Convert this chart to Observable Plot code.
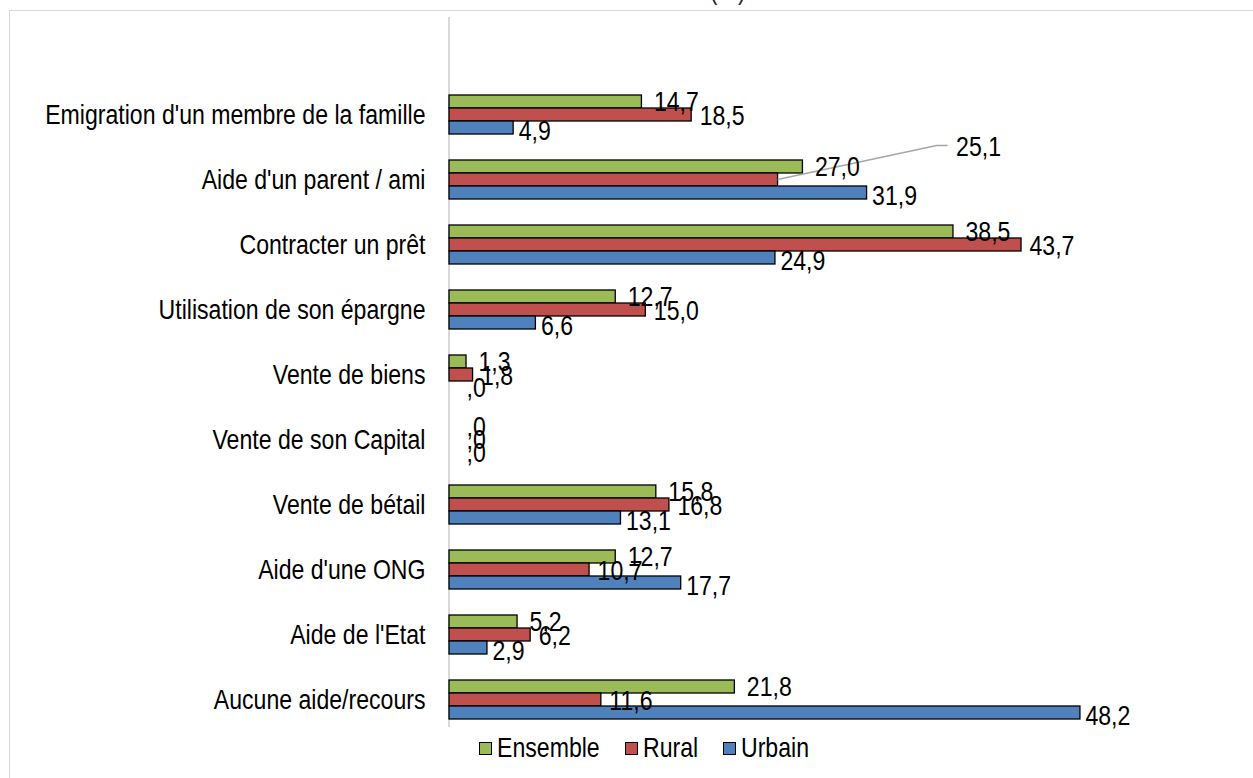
<!DOCTYPE html>
<html><head><meta charset="utf-8">
<script src="https://cdn.jsdelivr.net/npm/d3@7"></script>
<script src="https://cdn.jsdelivr.net/npm/@observablehq/plot@0.6"></script>
<style>
html,body{margin:0;padding:0;background:#fff;}
#wrap{position:relative;width:1253px;height:778px;overflow:hidden;background:#fff;}
#border{position:absolute;left:9px;top:10px;width:1300px;height:820px;border:1.5px solid #d9d9d9;}
#title{position:absolute;left:632px;top:-26px;color:#262626;line-height:27.5px;white-space:nowrap;}
#title span{display:inline-block;transform-origin:50% 50%;transform:translateX(-50%) scaleX(0.84);}
#chart{position:absolute;left:0;top:0;}
#legend{position:absolute;left:0;top:730px;width:1253px;height:40px;color:#000;}
.sw{position:absolute;top:12px;width:11px;height:11px;border:1.3px solid #000;}
.lt{position:absolute;top:2px;white-space:nowrap;display:inline-block;transform-origin:0 50%;transform:scaleX(0.84);line-height:32px;}
</style>
</head>
<body>
<div id="wrap">
  <div id="border"></div>
  <div id="title"><span>Modes de recours (%)</span></div>
  <div id="chart"></div>
  <div id="legend"></div>
</div>
<script>
// ---- data ----
const categories = [
  "Emigration d'un membre de la famille",
  "Aide d'un parent / ami",
  "Contracter un prêt",
  "Utilisation de son épargne",
  "Vente de biens",
  "Vente de son Capital",
  "Vente de bétail",
  "Aide d'une ONG",
  "Aide de l'Etat",
  "Aucune aide/recours"
];
const series = ["Ensemble", "Rural", "Urbain"];
const ensemble = [14.7, 27.0, 38.5, 12.7, 1.3, 0, 15.8, 12.7, 5.2, 21.8];
const rural    = [18.5, 25.1, 43.7, 15.0, 1.8, 0, 16.8, 10.7, 6.2, 11.6];
const urbain   = [4.9, 31.9, 24.9, 6.6, 0, 0, 13.1, 17.7, 2.9, 48.2];
const colors = ["#9BBB59", "#C0504D", "#4F81BD"];
const leaderLabel = {category: "Aide d'un parent / ami", series: "Rural"};

// ---- fonts ----
const FONT = '"Liberation Sans", Arial, sans-serif';
const FS = 27.5;     // Arial-like size
const SX = 0.84;     // horizontal condensing (narrow face look)

document.getElementById("title").style.font = `${FS}px ${FONT}`;

// ---- rows ----
const vals = [ensemble, rural, urbain];
const rows = categories.flatMap((c, i) => series.map((s, j) => ({
  category: c, series: s, value: vals[j][i], key: c + "|" + s
})));
const yDomain = categories.flatMap(c => [c + "|pre", ...series.map(s => c + "|" + s), c + "|post"]);
const fmt = v => v === 0 ? ",0" : v.toFixed(1).replace(".", ",");
const isLeader = d => d.category === leaderLabel.category && d.series === leaderLabel.series;

const dxs = {Ensemble: 12, Rural: 8, Urbain: 5};
const dys = {Ensemble: 0, Rural: 1, Urbain: 3};

const textMarks = series.map(s => Plot.text(rows.filter(d => d.series === s && d.value !== 0 && !isLeader(d)), {
  x: "value", y: "key", text: d => fmt(d.value), textAnchor: "start",
  dx: dxs[s], dy: dys[s], fill: "#000", fontSize: FS
}));
const zeroText = Plot.text(rows.filter(d => d.value === 0), {
  x: "value", y: "key", text: d => fmt(d.value), textAnchor: "start",
  dx: 17, dy: 0, fill: "#000", fontSize: FS
});
const leaderRows = rows.filter(isLeader);
const leaderText = Plot.text(leaderRows, {
  x: "value", y: "key", text: d => fmt(d.value), textAnchor: "start",
  dx: 178, dy: -33, fill: "#000", fontSize: FS
});

function axisLine(index, scales) {
  const x = scales.x;
  return d3.create("svg:line")
    .attr("x1", x(0)).attr("x2", x(0)).attr("y1", 17).attr("y2", 727)
    .attr("stroke", "#d9d9d9").attr("stroke-width", 2).node();
}
function leaderLine(index, scales) {
  const x = scales.x, y = scales.y;
  const bw = y.bandwidth ? y.bandwidth() : 13;
  const g = d3.create("svg:g");
  for (const r of leaderRows) {
    const x0 = x(r.value), y0 = y(r.key) + bw / 2;
    g.append("path")
      .attr("d", `M${x0},${y0}L${x0 + 159},${y0 - 34}L${x0 + 170},${y0 - 34}`)
      .attr("fill", "none").attr("stroke", "#a6a6a6").attr("stroke-width", 1.3);
  }
  return g.node();
}

const chart = Plot.plot({
  width: 1253, height: 735,
  marginLeft: 449, marginRight: 149.5, marginTop: 81.5, marginBottom: 3.5,
  style: {fontFamily: FONT, fontSize: FS + "px", color: "#000", background: "transparent"},
  x: {domain: [0, 50], axis: null},
  y: {domain: yDomain, padding: 0, axis: null},
  color: {domain: series, range: colors},
  marks: [
    axisLine,
    Plot.axisY(categories.map(c => c + "|Rural"), {
      tickSize: 0, tickPadding: 24, tickFormat: d => d.split("|")[0],
      fontSize: FS, fill: "#000", label: null
    }),
    Plot.barX(rows, {x1: 0, x2: "value", y: "key", fill: "series", stroke: "#000", strokeWidth: 1.3}),
    leaderLine,
    ...textMarks,
    zeroText,
    leaderText
  ]
});

// condense every text horizontally about its own anchor point
function toPx(v, fs) {
  if (v == null || v === "") return 0;
  const s = String(v).trim();
  if (s.endsWith("em")) return parseFloat(s) * fs;
  const n = parseFloat(s);
  return isNaN(n) ? 0 : n;
}
chart.querySelectorAll("text").forEach(el => {
  const x = toPx(el.getAttribute("x"), FS);
  const y = toPx(el.getAttribute("y"), FS);
  const dx = toPx(el.getAttribute("dx"), FS);
  const t = el.getAttribute("transform") || "";
  el.setAttribute("transform", `${t} translate(${x + dx},${y}) scale(${SX},1)`);
  el.removeAttribute("x"); el.removeAttribute("y"); el.removeAttribute("dx");
});
document.getElementById("chart").appendChild(chart);

// ---- legend ----
const leg = document.getElementById("legend");
leg.style.font = `${FS}px ${FONT}`;
const legPos = [[479, 497], [625, 643], [723, 741]];
series.forEach((s, i) => {
  const sw = document.createElement("div"); sw.className = "sw";
  sw.style.background = colors[i]; sw.style.left = legPos[i][0] + "px";
  const tx = document.createElement("span"); tx.className = "lt";
  tx.textContent = s; tx.style.left = legPos[i][1] + "px";
  leg.appendChild(sw); leg.appendChild(tx);
});
</script>
</body></html>
